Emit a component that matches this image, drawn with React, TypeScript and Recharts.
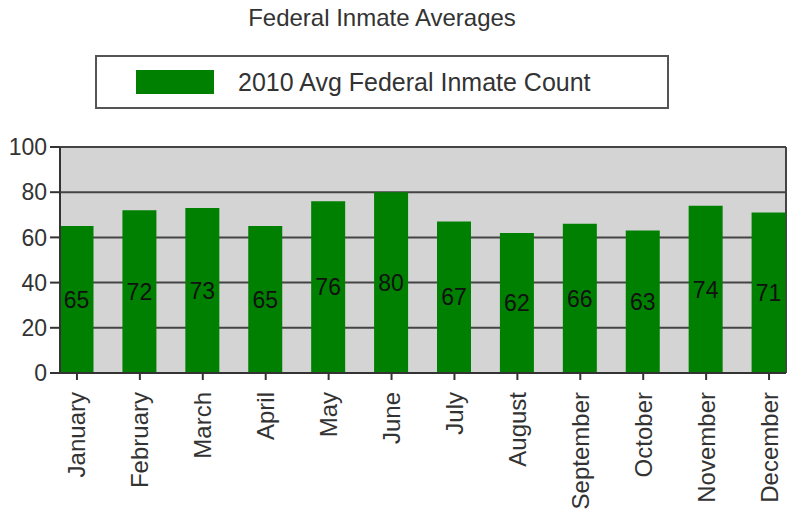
import React from 'react';
import {
  BarChart,
  Bar,
  XAxis,
  YAxis,
  CartesianGrid,
  Legend,
  LabelList,
} from 'recharts';

const months = [
  'January', 'February', 'March', 'April', 'May', 'June',
  'July', 'August', 'September', 'October', 'November', 'December',
];
const inmateCounts = [65, 72, 73, 65, 76, 80, 67, 62, 66, 63, 74, 71];
const yTicks = [0, 20, 40, 60, 80, 100];

const seriesName = '2010 Avg Federal Inmate Count';
const chartTitle = 'Federal Inmate Averages';

const data = months.map((month, i) => ({ month, count: inmateCounts[i] }));

const FONT = 'Arial, "Liberation Sans", sans-serif';

const MonthTick = ({ x, y, payload }: any) => (
  <text
    transform={`translate(${x},${y + 10}) rotate(-90)`}
    textAnchor="end"
    dominantBaseline="central"
    fontSize={24}
    fontFamily={FONT}
    fill="#333"
  >
    {payload.value}
  </text>
);

const LegendBox = () => (
  <div
    style={{
      boxSizing: 'border-box',
      width: 574,
      height: 54,
      border: '2px solid #555',
      background: '#fff',
      display: 'flex',
      alignItems: 'center',
      fontFamily: FONT,
    }}
  >
    <div style={{ width: 78, height: 24, background: '#008000', marginLeft: 39, marginRight: 24 }} />
    <span style={{ fontSize: 25, color: '#333' }}>{seriesName}</span>
  </div>
);

export default function App() {
  return (
    <div style={{ position: 'absolute', left: 0, top: 0, width: 788, height: 518, background: '#fff' }}>
      <div
        style={{
          position: 'absolute',
          top: 4,
          left: 0,
          width: 764,
          textAlign: 'center',
          fontFamily: FONT,
          fontSize: 24,
          color: '#333',
        }}
      >
        {chartTitle}
      </div>
      <BarChart
        width={788}
        height={518}
        data={data}
        margin={{ top: 147, right: 2, bottom: 0, left: 0 }}
      >
        <CartesianGrid
          fill="#d4d4d4"
          fillOpacity={1}
          stroke="#444"
          strokeWidth={2}
          verticalCoordinatesGenerator={({ offset }: any) => [offset.left, offset.left + offset.width]}
        />
        <Legend
          verticalAlign="middle"
          align="center"
          content={() => <LegendBox />}
          wrapperStyle={{ position: 'absolute', top: 55, left: 95, width: 574 }}
        />
        <XAxis
          dataKey="month"
          interval={0}
          padding={{ left: -14.5, right: -14.5 }}
          tick={<MonthTick />}
          tickSize={7}
          stroke="#333"
          strokeWidth={2}
          height={145}
        />
        <YAxis
          domain={[0, 100]}
          ticks={yTicks}
          width={60}
          tickSize={10}
          tickMargin={3}
          stroke="#333"
          strokeWidth={2}
          tick={{ fontSize: 23, fontFamily: FONT, fill: '#333' }}
        />
        <Bar dataKey="count" name={seriesName} fill="#008000" barSize={34} isAnimationActive={false}>
          <LabelList
            dataKey="count"
            position="center"
            fontSize={23}
            fontFamily={FONT}
            fill="#111"
            offset={0}
          />
        </Bar>
      </BarChart>
    </div>
  );
}
